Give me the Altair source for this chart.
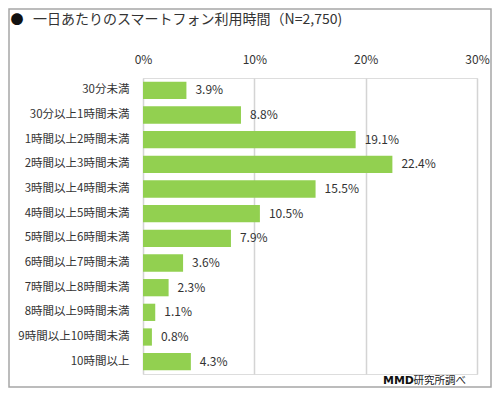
import altair as alt
import pandas as pd

categories = ["30分未満", "30分以上1時間未満", "1時間以上2時間未満", "2時間以上3時間未満",
              "3時間以上4時間未満", "4時間以上5時間未満", "5時間以上6時間未満", "6時間以上7時間未満",
              "7時間以上8時間未満", "8時間以上9時間未満", "9時間以上10時間未満", "10時間以上"]
values = [3.9, 8.8, 19.1, 22.4, 15.5, 10.5, 7.9, 3.6, 2.3, 1.1, 0.8, 4.3]
tick_values = [0, 10, 20, 30]
title_text = "一日あたりのスマートフォン利用時間（N=2,750)"
source_bold = "MMD"
source_rest = "研究所調べ"

df = pd.DataFrame({"cat": categories, "val": values,
                   "lab": [f"{v:.1f}%" for v in values]})
one = pd.DataFrame({"a": [1]})

FONT = "Noto Sans CJK JP"
W, H = 334, 296
PL, PT, PR, PB = 135, 70, 15, 14

x_enc = alt.X("val:Q", scale=alt.Scale(domain=[0, 30], nice=False),
              axis=alt.Axis(orient="top", values=tick_values, title=None,
                            labelExpr="datum.value + '%'", grid=True,
                            gridColor="#d4d4d4", gridWidth=1.5, domain=False,
                            ticks=False, labelPadding=12, labelFlush=False,
                            labelFontSize=12, labelColor="#333333", labelFont=FONT))
y_enc = alt.Y("cat:N", sort=categories,
              scale=alt.Scale(paddingInner=0.3, paddingOuter=0.15),
              axis=alt.Axis(title=None, domain=False, ticks=False, labelPadding=14,
                            labelFontSize=11.5, labelColor="#333333", labelFont=FONT,
                            labelLimit=200))

border = alt.Chart(one).mark_rect(fillOpacity=0, stroke="#a6a6a6", strokeWidth=1.5).encode(
    x=alt.value(-PL + 1), x2=alt.value(W + PR - 1), y=alt.value(-PT + 1), y2=alt.value(H + PB - 1))

bars = alt.Chart(df).mark_bar(color="#92d050").encode(x=x_enc, y=y_enc)
labels = alt.Chart(df).mark_text(align="left", dx=9, fontSize=12, font=FONT,
                                 color="#333333").encode(x="val:Q", y=alt.Y("cat:N", sort=categories),
                                                         text="lab:N")

bullet = alt.Chart(one).mark_text(text="●", fontSize=13, font=FONT, color="#111111",
                                  align="center", baseline="middle").encode(
    x=alt.value(-126), y=alt.value(-58))
title = alt.Chart(one).mark_text(text=title_text, fontSize=14, font=FONT, color="#333333",
                                 align="left", baseline="middle").encode(
    x=alt.value(-110), y=alt.value(-58))
src1 = alt.Chart(one).mark_text(text=source_rest, fontSize=10.5, font=FONT, color="#222222",
                                align="right", baseline="middle").encode(
    x=alt.value(323), y=alt.value(H + 7))
src2 = alt.Chart(one).mark_text(text=source_bold, fontSize=11, font="DejaVu Sans",
                                fontWeight="bold", color="#111111",
                                align="right", baseline="middle").encode(
    x=alt.value(271), y=alt.value(H + 7))

chart = alt.layer(border, bars, labels, bullet, title, src1, src2).properties(
    width=W, height=H, autosize=alt.AutoSizeParams(type="none"),
    padding={"left": PL, "top": PT, "right": PR, "bottom": PB}
).configure_view(stroke="#d4d4d4", strokeWidth=1.5).configure(background="white")

chart.save("out.html", embed_options={"renderer": "svg", "actions": False})
